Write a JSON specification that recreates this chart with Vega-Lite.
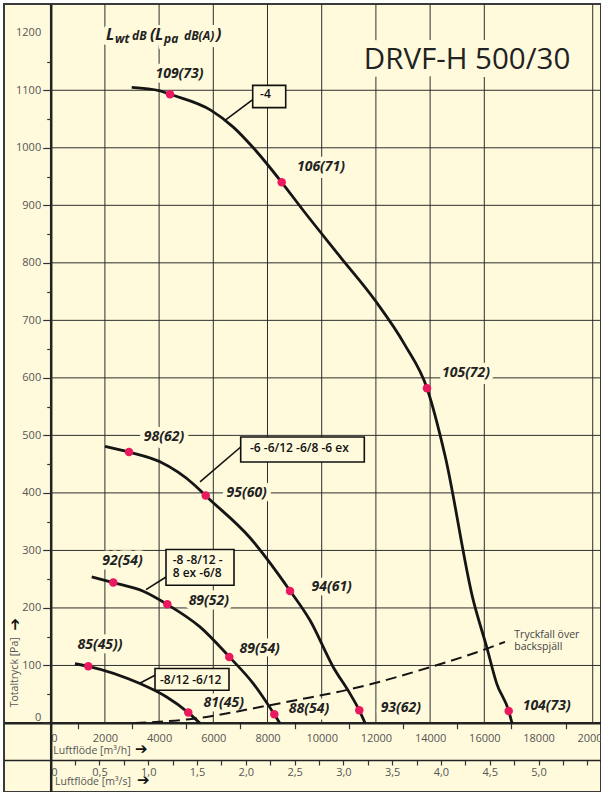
{
 "$schema": "https://vega.github.io/schema/vega-lite/v6.json",
 "width": 597,
 "height": 788,
 "autosize": {"type": "none"},
 "padding": {"left": 4, "top": 4, "right": 0, "bottom": 0},
 "background": "#ffffff",
 "config": {
  "view": {"fill": "#fffadc", "stroke": "#3a3a3a", "strokeWidth": 2},
  "font": "Open Sans"
 },
 "resolve": {"axis": {"x": "independent", "y": "independent"}},
 "datasets": {
  "hgrid": [{"v":100},{"v":200},{"v":300},{"v":400},{"v":500},{"v":600},{"v":700},{"v":800},{"v":900},{"v":1000},{"v":1100}],
  "vgrid": [{"v":2000},{"v":4000},{"v":6000},{"v":8000},{"v":10000},{"v":12000},{"v":14000},{"v":16000},{"v":20000}],
  "curves": [
   {"c":"-4","q":2989,"p":1105},{"c":"-4","q":4033,"p":1099},{"c":"-4","q":4402,"p":1093},{"c":"-4","q":5919,"p":1065},{"c":"-4","q":6738,"p":1036},{"c":"-4","q":7476,"p":1000},{"c":"-4","q":8524,"p":940},{"c":"-4","q":9321,"p":891},{"c":"-4","q":10675,"p":811},{"c":"-4","q":11967,"p":735},{"c":"-4","q":13074,"p":657},{"c":"-4","q":13886,"p":582},{"c":"-4","q":14550,"p":465},{"c":"-4","q":15594,"p":213},{"c":"-4","q":16089,"p":132},{"c":"-4","q":16458,"p":68.5},{"c":"-4","q":16900,"p":21},{"c":"-4","q":17020,"p":0},
   {"c":"-6","q":2004,"p":481},{"c":"-6","q":2889,"p":471},{"c":"-6","q":4033,"p":454},{"c":"-6","q":5325,"p":413},{"c":"-6","q":5720,"p":395},{"c":"-6","q":7354,"p":322},{"c":"-6","q":8830,"p":230},{"c":"-6","q":9568,"p":178.5},{"c":"-6","q":10428,"p":97},{"c":"-6","q":11044,"p":51},{"c":"-6","q":11387,"p":22},{"c":"-6","q":11600,"p":0},
   {"c":"-8","q":1513,"p":254},{"c":"-8","q":2310,"p":244},{"c":"-8","q":3417,"p":229},{"c":"-8","q":4303,"p":206},{"c":"-8","q":5509,"p":167},{"c":"-8","q":6590,"p":115},{"c":"-8","q":7476,"p":68.5},{"c":"-8","q":8251,"p":15},{"c":"-8","q":8450,"p":0},
   {"c":"-8/12","q":897,"p":103},{"c":"-8/12","q":1387,"p":98.6},{"c":"-8/12","q":3295,"p":68.5},{"c":"-8/12","q":4280,"p":45.2},{"c":"-8/12","q":5077,"p":18.1},{"c":"-8/12","q":5500,"p":0}
  ],
  "dashed": [{"q":3111,"p":0},{"q":5018,"p":6},{"q":8092,"p":31},{"q":9199,"p":41},{"q":10982,"p":58},{"q":11967,"p":69.5},{"q":13996,"p":97},{"q":16026,"p":128},{"q":16764,"p":141}],
  "pts": [
   {"q":4402,"p":1093,"t":"109(73)","lq":4753,"lp":1120.8},
   {"q":8524,"p":940,"t":"106(71)","lq":9974,"lp":959},
   {"q":13886,"p":582,"t":"105(72)","lq":15325,"lp":601},
   {"q":16900,"p":21,"t":"104(73)","lq":18303,"lp":23.3},
   {"q":2889,"p":471,"t":"98(62)","lq":4181,"lp":490.3},
   {"q":5720,"p":395.3,"t":"95(60)","lq":7232,"lp":392.9},
   {"q":8830,"p":229.5,"t":"94(61)","lq":10369,"lp":229.5},
   {"q":11387,"p":22.1,"t":"93(62)","lq":12919,"lp":19.1},
   {"q":2310,"p":244.1,"t":"92(54)","lq":2649,"lp":275.4},
   {"q":4303,"p":206.4,"t":"89(52)","lq":5834,"lp":204.6},
   {"q":6590,"p":114.7,"t":"89(54)","lq":7712,"lp":121.7},
   {"q":8251,"p":15.1,"t":"88(54)","lq":9531,"lp":17.4},
   {"q":1387,"p":98.6,"t":"85(45))","lq":1819,"lp":129.3},
   {"q":5077,"p":18.1,"t":"81(45)","lq":6387,"lp":27.8}
  ],
  "boxes": [
   {"x1":7454,"x2":8672,"y1":1069.9,"y2":1108.6,"t":"-4","tx":7727,"ty":1086,"lx1":7454,"ly1":1083.8,"lx2":6432,"ly2":1047.8},
   {"x1":7011,"x2":11572,"y1":453.8,"y2":497.2,"t":"-6 -6/12 -6/8 -6 ex","tx":7354,"ty":471.1,"lx1":7011,"ly1":479.8,"lx2":5509,"ly2":419},
   {"x1":4255,"x2":6764,"y1":239.4,"y2":301.5,"t":"-8 -8/12 -\n8 ex -6/8","tx":4502,"ty":277.1,"lx1":4255,"ly1":253.8,"lx2":3517,"ly2":231.9},
   {"x1":3849,"x2":6579,"y1":56.8,"y2":94.6,"t":"-8/12 -6/12","tx":4033,"ty":67.3,"lx1":3849,"ly1":82.9,"lx2":3269,"ly2":68.5}
  ],
  "title": [{"x":15362,"y":1137.7,"t":"DRVF-H 500/30"}],
  "lwt": [
   {"x":2041,"y":1186.9,"t":"L","k":"big"},
   {"x":2373,"y":1181.7,"t":"wt","k":"small"},
   {"x":3000,"y":1186.9,"t":"dB","k":"small"},
   {"x":3664,"y":1186.9,"t":"(","k":"big"},
   {"x":3849,"y":1186.9,"t":"L","k":"big"},
   {"x":4181,"y":1181.7,"t":"pa","k":"small"},
   {"x":4919,"y":1186.9,"t":"dB(A)","k":"small"},
   {"x":6100,"y":1186.9,"t":")","k":"big"}
  ],
  "misc": [
   {"x":96,"y":-54.4,"t":"Luftflöde [m³/h]","k":"axt"},
   {"x":159,"y":-108.3,"t":"Luftflöde [m³/s]","k":"axt"},
   {"x":3111,"y":-54.4,"t":"➔","k":"arr"},
   {"x":3185,"y":-108.3,"t":"➔","k":"arr"},
   {"x":-1299,"y":88.1,"t":"Totaltryck [Pa]","k":"yt"},
   {"x":-1299,"y":171.6,"t":"➔","k":"yarr"},
   {"x":17107,"y":147.8,"t":"Tryckfall över\nbackspjäll","k":"note"}
  ]
 },
 "layer": [
  {
   "data": {"name": "hgrid"},
   "mark": {"type": "rule", "color": "#2e2e2e", "strokeWidth": 1},
   "encoding": {
    "y": {"field": "v", "type": "quantitative",
     "scale": {"domain": [-120, 1250], "nice": false, "zero": false},
     "axis": {
      "orient": "left", "offset": -46.7,
      "values": [0,100,200,300,400,500,600,700,800,900,1000,1100,1200],
      "tickSize": 8,
      "tickColor": {"condition": {"test": "datum.value === 1200", "value": "transparent"}, "value": "#333"},
      "tickWidth": 1.2,
      "labelBaseline": {"condition": {"test": "datum.value === 0", "value": "bottom"}, "value": "middle"},
      "labelPadding": 2, "labelFontSize": 11, "labelColor": "#555", "labelFont": "Open Sans",
      "labelOverlap": false, "labelFlush": false, "format": "d",
      "domainColor": "#222", "domainWidth": 2.5, "grid": false, "title": null
     }},
    "x": {"datum": 0, "type": "quantitative",
     "scale": {"domain": [-1723, 20306], "nice": false, "zero": false},
     "axis": {
      "orient": "bottom", "offset": -69.3,
      "values": [0,1000,2000,3000,4000,5000,6000,7000,8000,9000,10000,11000,12000,13000,14000,15000,16000,17000,18000,19000,20000],
      "labelExpr": "datum.value % 2000 === 0 ? '' + datum.value : ''",
      "tickSize": 6, "tickWidth": 1.2,
      "tickColor": {"condition": {"test": "datum.value % 2000 === 0", "value": "transparent"}, "value": "#333"},
      "labelPadding": 4, "labelFontSize": 11, "labelColor": "#555", "labelFont": "Open Sans",
      "labelAlign": {"condition": {"test": "datum.value === 0", "value": "left"}, "value": "center"},
      "labelFlush": false, "labelOverlap": false,
      "domainColor": "#222", "domainWidth": 2.5, "grid": false, "title": null
     }},
    "x2": {"datum": 20306}
   }
  },
  {
   "data": {"name": "vgrid"},
   "mark": {"type": "rule", "color": "#2e2e2e", "strokeWidth": 1},
   "encoding": {
    "x": {"field": "v", "type": "quantitative",
     "axis": {
      "orient": "bottom", "offset": -32,
      "values": [0,900,1800,2700,3600,4500,5400,6300,7200,8100,9000,9900,10800,11700,12600,13500,14400,15300,16200,17100,18000,18900,19800],
      "labelExpr": "datum.value % 1800 === 0 && datum.value <= 18000 ? (datum.value === 0 ? '0' : replace(format(datum.value / 3600, '.1f'), '.', ',')) : ''",
      "tickSize": 5, "tickWidth": 1.2,
      "tickColor": {"condition": {"test": "datum.value === 0", "value": "transparent"}, "value": "#333"},
      "labelPadding": 1, "labelFontSize": 11, "labelColor": "#555", "labelFont": "Open Sans",
      "labelAlign": {"condition": {"test": "datum.value === 0", "value": "left"}, "value": "center"},
      "labelFlush": false, "labelOverlap": false,
      "domainColor": "#222", "domainWidth": 1.5, "grid": false, "title": null
     }},
    "y": {"datum": 0, "type": "quantitative",
     "axis": {
      "orient": "left", "offset": -46.7,
      "values": [50,150,250,350,450,550,650,750,850,950,1050,1150],
      "tickSize": 4, "tickWidth": 1.2, "tickColor": "#333",
      "labels": false, "domain": false, "grid": false, "title": null
     }},
    "y2": {"datum": 1250}
   }
  },
  {
   "data": {"name": "pts"},
   "mark": {"type": "text", "fontSize": 14, "fontStyle": "italic", "fontWeight": "bold", "align": "center", "baseline": "alphabetic", "fill": "#fffadc", "stroke": "#fffadc", "strokeWidth": 9, "strokeJoin": "round"},
   "encoding": {
    "x": {"field": "lq", "type": "quantitative", "axis": null},
    "y": {"field": "lp", "type": "quantitative", "axis": null},
    "text": {"field": "t"}
   }
  },
  {
   "data": {"name": "title"},
   "mark": {"type": "text", "fontSize": 29.5, "align": "center", "baseline": "alphabetic", "fill": "#fffadc", "stroke": "#fffadc", "strokeWidth": 16, "strokeJoin": "round"},
   "encoding": {
    "x": {"field": "x", "type": "quantitative", "axis": null},
    "y": {"field": "y", "type": "quantitative", "axis": null},
    "text": {"field": "t"}
   }
  },
  {
   "data": {"name": "lwt"},
   "mark": {"type": "text", "fontSize": 15, "fontStyle": "italic", "fontWeight": "bold", "align": "left", "baseline": "alphabetic", "fill": "#fffadc", "stroke": "#fffadc", "strokeWidth": 10, "strokeJoin": "round"},
   "encoding": {
    "x": {"field": "x", "type": "quantitative", "axis": null},
    "y": {"field": "y", "type": "quantitative", "axis": null},
    "text": {"field": "t"}
   }
  },
  {
   "data": {"name": "boxes"},
   "mark": {"type": "rule", "color": "#111", "strokeWidth": 1.6},
   "encoding": {
    "x": {"field": "lx1", "type": "quantitative", "axis": null},
    "y": {"field": "ly1", "type": "quantitative", "axis": null},
    "x2": {"field": "lx2"},
    "y2": {"field": "ly2"}
   }
  },
  {
   "data": {"name": "boxes"},
   "mark": {"type": "rect", "fill": "#fffadc", "stroke": "#111", "strokeWidth": 1.6},
   "encoding": {
    "x": {"field": "x1", "type": "quantitative", "axis": null},
    "x2": {"field": "x2"},
    "y": {"field": "y1", "type": "quantitative", "axis": null},
    "y2": {"field": "y2"}
   }
  },
  {
   "data": {"name": "boxes"},
   "mark": {"type": "text", "fontSize": 12, "fontWeight": 600, "align": "left", "baseline": "alphabetic", "color": "#111", "lineBreak": "\n", "lineHeight": 13.4},
   "encoding": {
    "x": {"field": "tx", "type": "quantitative", "axis": null},
    "y": {"field": "ty", "type": "quantitative", "axis": null},
    "text": {"field": "t"}
   }
  },
  {
   "data": {"name": "curves"},
   "mark": {"type": "line", "color": "#151515", "strokeWidth": 2.8, "interpolate": "monotone"},
   "encoding": {
    "x": {"field": "q", "type": "quantitative", "axis": null},
    "y": {"field": "p", "type": "quantitative", "axis": null},
    "detail": {"field": "c"}
   }
  },
  {
   "data": {"name": "dashed"},
   "mark": {"type": "line", "color": "#151515", "strokeWidth": 2, "strokeDash": [11, 6], "interpolate": "monotone"},
   "encoding": {
    "x": {"field": "q", "type": "quantitative", "axis": null},
    "y": {"field": "p", "type": "quantitative", "axis": null}
   }
  },
  {
   "data": {"name": "pts"},
   "mark": {"type": "circle", "size": 72, "color": "#e8195e", "opacity": 1},
   "encoding": {
    "x": {"field": "q", "type": "quantitative", "axis": null},
    "y": {"field": "p", "type": "quantitative", "axis": null}
   }
  },
  {
   "data": {"name": "pts"},
   "mark": {"type": "text", "fontSize": 14, "fontStyle": "italic", "fontWeight": "bold", "align": "center", "baseline": "alphabetic", "color": "#222"},
   "encoding": {
    "x": {"field": "lq", "type": "quantitative", "axis": null},
    "y": {"field": "lp", "type": "quantitative", "axis": null},
    "text": {"field": "t"}
   }
  },
  {
   "data": {"name": "title"},
   "mark": {"type": "text", "fontSize": 29.5, "align": "center", "baseline": "alphabetic", "color": "#222"},
   "encoding": {
    "x": {"field": "x", "type": "quantitative", "axis": null},
    "y": {"field": "y", "type": "quantitative", "axis": null},
    "text": {"field": "t"}
   }
  },
  {
   "data": {"name": "lwt"},
   "transform": [{"filter": "datum.k === 'big'"}],
   "mark": {"type": "text", "fontSize": 16, "fontStyle": "italic", "fontWeight": "bold", "align": "left", "baseline": "alphabetic", "color": "#222"},
   "encoding": {
    "x": {"field": "x", "type": "quantitative", "axis": null},
    "y": {"field": "y", "type": "quantitative", "axis": null},
    "text": {"field": "t"}
   }
  },
  {
   "data": {"name": "lwt"},
   "transform": [{"filter": "datum.k === 'small'"}],
   "mark": {"type": "text", "fontSize": 12, "fontStyle": "italic", "fontWeight": "bold", "align": "left", "baseline": "alphabetic", "color": "#222"},
   "encoding": {
    "x": {"field": "x", "type": "quantitative", "axis": null},
    "y": {"field": "y", "type": "quantitative", "axis": null},
    "text": {"field": "t"}
   }
  },
  {
   "data": {"name": "misc"},
   "transform": [{"filter": "datum.k === 'axt'"}],
   "mark": {"type": "text", "fontSize": 10.5, "align": "left", "baseline": "alphabetic", "color": "#555"},
   "encoding": {
    "x": {"field": "x", "type": "quantitative", "axis": null},
    "y": {"field": "y", "type": "quantitative", "axis": null},
    "text": {"field": "t"}
   }
  },
  {
   "data": {"name": "misc"},
   "transform": [{"filter": "datum.k === 'arr'"}],
   "mark": {"type": "text", "font": "DejaVu Sans", "fontSize": 15, "align": "left", "baseline": "alphabetic", "color": "#111"},
   "encoding": {
    "x": {"field": "x", "type": "quantitative", "axis": null},
    "y": {"field": "y", "type": "quantitative", "axis": null},
    "text": {"field": "t"}
   }
  },
  {
   "data": {"name": "misc"},
   "transform": [{"filter": "datum.k === 'yt'"}],
   "mark": {"type": "text", "fontSize": 10.5, "align": "center", "baseline": "middle", "angle": 270, "color": "#555"},
   "encoding": {
    "x": {"field": "x", "type": "quantitative", "axis": null},
    "y": {"field": "y", "type": "quantitative", "axis": null},
    "text": {"field": "t"}
   }
  },
  {
   "data": {"name": "misc"},
   "transform": [{"filter": "datum.k === 'yarr'"}],
   "mark": {"type": "text", "font": "DejaVu Sans", "fontSize": 15, "align": "center", "baseline": "middle", "angle": 270, "color": "#111"},
   "encoding": {
    "x": {"field": "x", "type": "quantitative", "axis": null},
    "y": {"field": "y", "type": "quantitative", "axis": null},
    "text": {"field": "t"}
   }
  },
  {
   "data": {"name": "misc"},
   "transform": [{"filter": "datum.k === 'note'"}],
   "mark": {"type": "text", "fontSize": 10.5, "align": "left", "baseline": "alphabetic", "color": "#444", "lineBreak": "\n", "lineHeight": 11.7},
   "encoding": {
    "x": {"field": "x", "type": "quantitative", "axis": null},
    "y": {"field": "y", "type": "quantitative", "axis": null},
    "text": {"field": "t"}
   }
  }
 ]
}
